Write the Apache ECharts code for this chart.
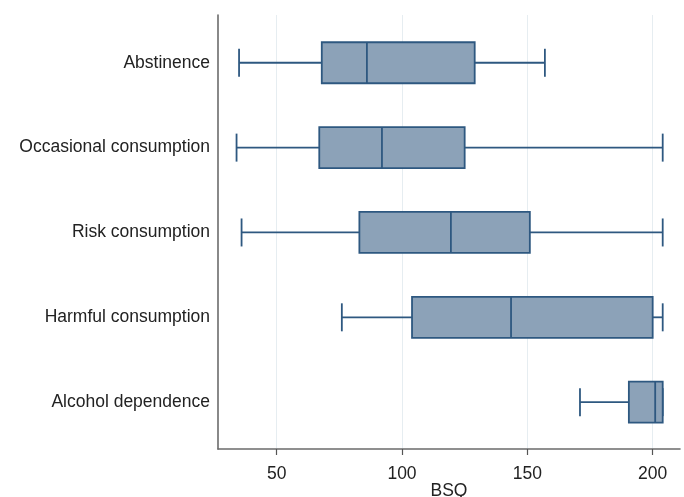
<!DOCTYPE html>
<html>
<head>
<meta charset="utf-8">
<script src="https://cdn.jsdelivr.net/npm/echarts@6/dist/echarts.min.js"></script>
<style>
  html, body { margin: 0; padding: 0; background: #fff; }
  #chart { width: 684px; height: 497px; }
</style>
</head>
<body>
<div id="chart"></div>
<script>
// BSQ by alcohol consumption group
const categories = ['Abstinence', 'Occasional consumption', 'Risk consumption', 'Harmful consumption', 'Alcohol dependence'];
const lowWhisker = [35, 34, 36, 76, 171];
const q1 = [68, 67, 83, 104, 190.5];
const medians = [86, 92, 119.5, 143.5, 201];
const q3 = [129, 125, 151, 200, 204];
const highWhisker = [157, 204, 204, 204, 204];
const xTicks = [50, 100, 150, 200];

const boxData = categories.map((c, i) => [i, lowWhisker[i], q1[i], medians[i], q3[i], highWhisker[i]]);

const stroke = '#2e5880';
const fill = '#8ca2b8';

const chart = echarts.init(document.getElementById('chart'));

function renderBox(params, api) {
    const i = api.value(0);
    const lo = api.coord([api.value(1), i]);
    const b1 = api.coord([api.value(2), i]);
    const md = api.coord([api.value(3), i]);
    const b3 = api.coord([api.value(4), i]);
    const hi = api.coord([api.value(5), i]);
    const y = lo[1];
    const half = 20.5, cap = 14;
    const ls = { stroke: stroke, lineWidth: 1.8, fill: null };
    return {
        type: 'group',
        children: [
            { type: 'line', shape: { x1: lo[0], y1: y, x2: b1[0], y2: y }, style: ls },
            { type: 'line', shape: { x1: b3[0], y1: y, x2: hi[0], y2: y }, style: ls },
            { type: 'line', shape: { x1: lo[0], y1: y - cap, x2: lo[0], y2: y + cap }, style: ls },
            { type: 'line', shape: { x1: hi[0], y1: y - cap, x2: hi[0], y2: y + cap }, style: ls },
            { type: 'rect', shape: { x: b1[0], y: y - half, width: b3[0] - b1[0], height: half * 2 },
              style: { fill: fill, stroke: stroke, lineWidth: 1.8 } },
            { type: 'line', shape: { x1: md[0], y1: y - half, x2: md[0], y2: y + half }, style: ls }
        ]
    };
}

const option = {
    animation: false,
    grid: { left: 218, right: 4, top: 15, bottom: 48, containLabel: false, outerBoundsMode: 'none' },
    xAxis: {
        type: 'value',
        min: 26.6,
        max: 210.9,
        name: 'BSQ',
        nameLocation: 'middle',
        nameGap: 33,
        nameMoveOverlap: false,
        nameTextStyle: { color: '#222', fontSize: 17.5, fontFamily: 'Liberation Sans' },
        axisLine: { show: true, onZero: false, lineStyle: { color: '#6b6b6b', width: 1.6 } },
        axisTick: { show: true, length: 6, customValues: xTicks, lineStyle: { color: '#555', width: 1.2 } },
        axisLabel: { customValues: xTicks, margin: 16, color: '#222', fontSize: 17.5, fontFamily: 'Liberation Sans' },
        splitLine: { show: true, lineStyle: { color: '#e6edf1', width: 1 } }
    },
    yAxis: {
        type: 'value',
        inverse: true,
        min: -0.563,
        max: 4.552,
        axisLine: { show: true, onZero: false, lineStyle: { color: '#6b6b6b', width: 1.6 } },
        axisTick: { show: false },
        splitLine: { show: false },
        axisLabel: {
            customValues: [0, 1, 2, 3, 4],
            formatter: v => categories[Math.round(v)],
            margin: 8,
            color: '#222',
            fontSize: 17.5,
            fontFamily: 'Liberation Sans'
        }
    },
    series: [{
        type: 'custom',
        renderItem: renderBox,
        encode: { x: [1, 2, 3, 4, 5], y: 0 },
        data: boxData
    }]
};

chart.setOption(option);
</script>
</body>
</html>
